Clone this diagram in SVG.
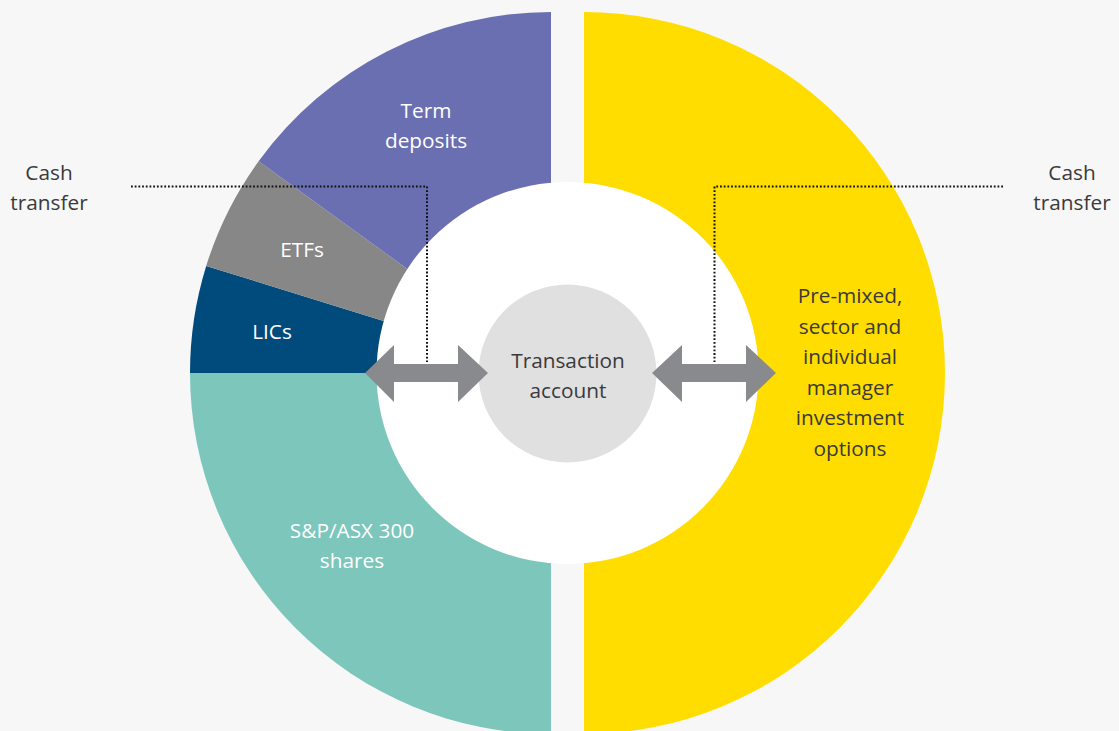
<svg xmlns="http://www.w3.org/2000/svg" width="1119" height="731" viewBox="0 0 1119 731">
<style>
.lbl{font-family:"Open Sans","Liberation Sans",sans-serif;font-size:20.8px;text-anchor:middle}
.w{fill:#ffffff}
.d{fill:#3a3a3a}
.dot{fill:none;stroke:#111111;stroke-width:2;stroke-dasharray:1.8 1.9}
.arr{fill:#888a8e}
</style>
<rect x="0" y="0" width="1119" height="731" fill="#f7f7f7"/>
<g id="sp300">
<path d="M551,373 L551,734 A361,361 0 0 1 190,373 Z" fill="#7cc6bc"/>
</g>
<g id="lics">
<path d="M551,373 L190,373 A361,361 0 0 1 206.2,265.9 Z" fill="#004b7c"/>
</g>
<g id="etfs">
<path d="M551,373 L206.2,265.9 A361,361 0 0 1 258.6,161.3 Z" fill="#878787"/>
</g>
<g id="term">
<path d="M551,373 L258.6,161.3 A361,361 0 0 1 551,12 Z" fill="#6a6fb2"/>
</g>
<g id="premixed">
<path d="M584,12 A361,361 0 0 1 584,734 Z" fill="#ffdd00"/>
</g>
<circle cx="567.5" cy="373" r="191" fill="#ffffff"/>
<g id="transaction">
<circle cx="567.5" cy="373.5" r="89" fill="#e0e0e0"/>
<text class="lbl d" x="568" y="368">Transaction</text>
<text class="lbl d" x="568" y="397.5">account</text>
</g>
<g id="connectors">
<polyline class="dot" points="131,186.5 427,186.5 427,362"/>
<polyline class="dot" points="1003,186.5 714.5,186.5 714.5,362"/>
<polygon class="arr" points="365,373 394,345 394,364 458,364 458,345 488,373 458,402 458,382 394,382 394,402"/>
<polygon class="arr" points="652,373 682,345 682,364 746,364 746,345 776,373 746,402 746,382 682,382 682,402"/>
</g>
<g id="labels">
<text class="lbl w" x="426" y="118">Term</text>
<text class="lbl w" x="426" y="147.5">deposits</text>
<text class="lbl w" x="302" y="256.5">ETFs</text>
<text class="lbl w" x="272" y="339">LICs</text>
<text class="lbl w" x="352" y="538">S&amp;P/ASX 300</text>
<text class="lbl w" x="352" y="568">shares</text>
<text class="lbl d" x="850" y="303">Pre-mixed,</text>
<text class="lbl d" x="850" y="333.5">sector and</text>
<text class="lbl d" x="850" y="364">individual</text>
<text class="lbl d" x="850" y="394.5">manager</text>
<text class="lbl d" x="850" y="425">investment</text>
<text class="lbl d" x="850" y="455.5">options</text>
<text class="lbl d" x="49" y="180">Cash</text>
<text class="lbl d" x="49" y="210">transfer</text>
<text class="lbl d" x="1072" y="180">Cash</text>
<text class="lbl d" x="1072" y="210">transfer</text>
</g>
</svg>
